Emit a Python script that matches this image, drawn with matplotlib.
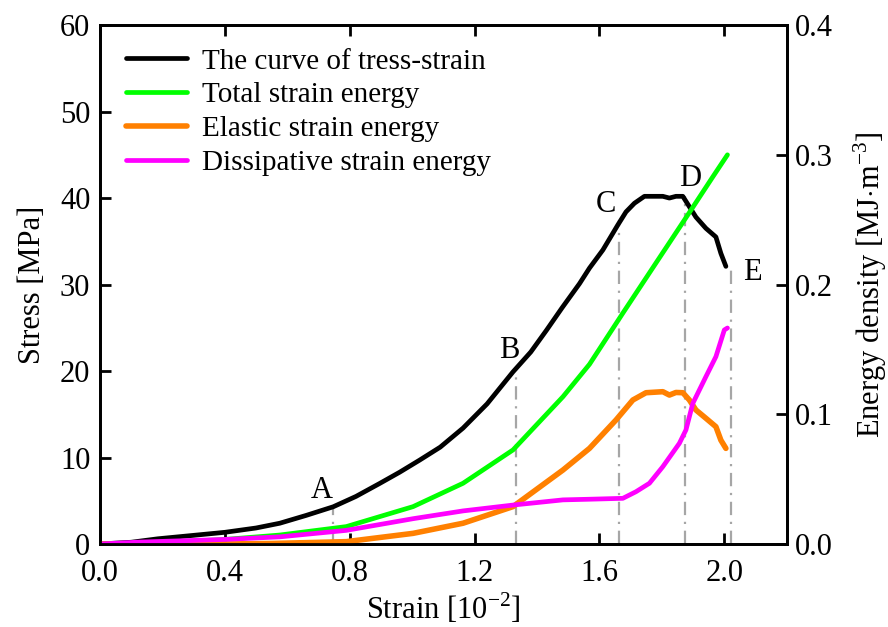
import matplotlib
matplotlib.use("Agg")
import matplotlib.pyplot as plt
from matplotlib.ticker import FormatStrFormatter

plt.rcParams['font.family'] = ['Liberation Serif', 'DejaVu Serif']
plt.rcParams['mathtext.fontset'] = 'custom'
plt.rcParams['mathtext.rm'] = 'Liberation Serif'

# curva tensão-deformação (eixo esquerdo)
strain_s = [0.0, 0.1, 0.185, 0.3, 0.4, 0.5, 0.576, 0.66, 0.747, 0.82, 0.896, 0.96, 1.024, 1.09, 1.163,
            1.24, 1.323, 1.38, 1.43, 1.48, 1.536, 1.568, 1.611, 1.659, 1.685, 1.712, 1.744, 1.803, 1.824,
            1.845, 1.867, 1.888, 1.909, 1.941, 1.973, 1.989, 2.005]
stress = [0.0, 0.2, 0.6, 1.0, 1.35, 1.85, 2.4, 3.3, 4.3, 5.5, 7.0, 8.3, 9.7, 11.2, 13.4,
          16.2, 19.9, 22.2, 24.7, 27.3, 30.1, 31.9, 34.0, 36.9, 38.4, 39.4, 40.2, 40.2, 40.0,
          40.2, 40.2, 39.0, 37.8, 36.5, 35.5, 33.6, 32.1]

# energias (eixo direito)
strain_t = [0.0, 0.2, 0.4, 0.576, 0.789, 1.003, 1.163, 1.323, 1.483, 1.568, 1.675, 1.781, 1.888, 1.963, 2.01]
total = [0.0, 0.001, 0.0035, 0.0069, 0.0134, 0.0288, 0.0468, 0.0725, 0.1135, 0.1385, 0.178, 0.2166, 0.2555,
         0.283, 0.30]

strain_e = [0.0, 0.4, 0.55, 0.789, 1.003, 1.163, 1.323, 1.483, 1.568, 1.653, 1.707, 1.749, 1.803, 1.824,
            1.845, 1.867, 1.888, 1.909, 1.941, 1.973, 1.989, 2.005]
elastic = [0.0, 0.0, 0.0004, 0.0018, 0.0082, 0.016, 0.0288, 0.057, 0.0737, 0.0956, 0.111, 0.1166, 0.1174,
           0.1148, 0.1168, 0.1166, 0.111, 0.1033, 0.0969, 0.0904, 0.080, 0.0737]

strain_d = [0.0, 0.13, 0.4, 0.576, 0.789, 1.003, 1.163, 1.323, 1.483, 1.568, 1.675, 1.717, 1.76, 1.803,
            1.856, 1.877, 1.899, 1.941, 1.973, 2.0, 2.01]
dissip = [0.0, 0.0015, 0.0035, 0.0055, 0.0105, 0.0195, 0.0255, 0.030, 0.034, 0.0345, 0.0352, 0.0403, 0.0468,
          0.0596, 0.0776, 0.0879, 0.1084, 0.129, 0.1444, 0.165, 0.1665]

# pontos característicos
point_names = ['A', 'B', 'C', 'D', 'E']
point_strain = [0.746, 1.334, 1.661, 1.875, 2.02]
point_stress = [4.3, 20.5, 37.5, 40.2, 32.3]
label_strain = [0.71, 1.31, 1.62, 1.89, 2.09]
label_stress = [6.2, 22.4, 39.3, 42.3, 31.4]

fig = plt.figure(figsize=(8.88, 6.27), dpi=100)
ax = fig.add_axes([0.1126, 0.1324, 0.7734, 0.8276])
ax2 = ax.twinx()

for xs, ys in zip(point_strain, point_stress):
    ax.plot([xs, xs], [0, ys], color='#a6a6a6', lw=1.6, dashes=(6, 3, 1, 3), zorder=1)

kw = dict(solid_joinstyle='round', solid_capstyle='round')
l1, = ax.plot(strain_s, stress, color='black', lw=3.4, zorder=3, **kw)
l2, = ax2.plot(strain_t, total, color='#00ff00', lw=3.4, **kw)
l3, = ax2.plot(strain_e, elastic, color='#ff8000', lw=4, **kw)
l4, = ax2.plot(strain_d, dissip, color='#ff00ff', lw=3.4, **kw)

for n, xs, ys in zip(point_names, label_strain, label_stress):
    ax.text(xs, ys, n, fontsize=22, ha='center', va='center')

ax.set_xlim(0, 2.2)
ax.set_ylim(0, 60)
ax2.set_ylim(0, 0.4)
ax.set_xticks([0.0, 0.4, 0.8, 1.2, 1.6, 2.0])
ax.set_yticks(range(0, 61, 10))
ax2.set_yticks([0.0, 0.1, 0.2, 0.3, 0.4])
ax.xaxis.set_major_formatter(FormatStrFormatter('%.1f'))
ax2.yaxis.set_major_formatter(FormatStrFormatter('%.1f'))

ax.tick_params(axis='x', direction='in', top=True, length=8, width=2, labelsize=22, pad=11)
ax.tick_params(axis='y', direction='in', right=False, length=8, width=2, labelsize=22, pad=7)
ax2.tick_params(axis='y', direction='in', length=8, width=2, labelsize=22, pad=6)
for a in (ax, ax2):
    for sp in a.spines.values():
        sp.set_linewidth(2)

ax.set_xlabel('Strain [10$^{-2}$]', fontsize=22, labelpad=2)
ax.set_ylabel('Stress [MPa]', fontsize=22, labelpad=9)
ax2.set_ylabel('Energy density [MJ$\\cdot$m$^{-3}$]', fontsize=22, labelpad=13)

ax2.legend([l1, l2, l3, l4],
           ['The curve of tress-strain', 'Total strain energy', 'Elastic strain energy',
            'Dissipative strain energy'],
           loc='upper left', bbox_to_anchor=(0.0, 1.006), frameon=False, fontsize=21,
           handlelength=2.1, labelspacing=0.25, handletextpad=0.5)

fig.savefig('out.png', dpi=100)
